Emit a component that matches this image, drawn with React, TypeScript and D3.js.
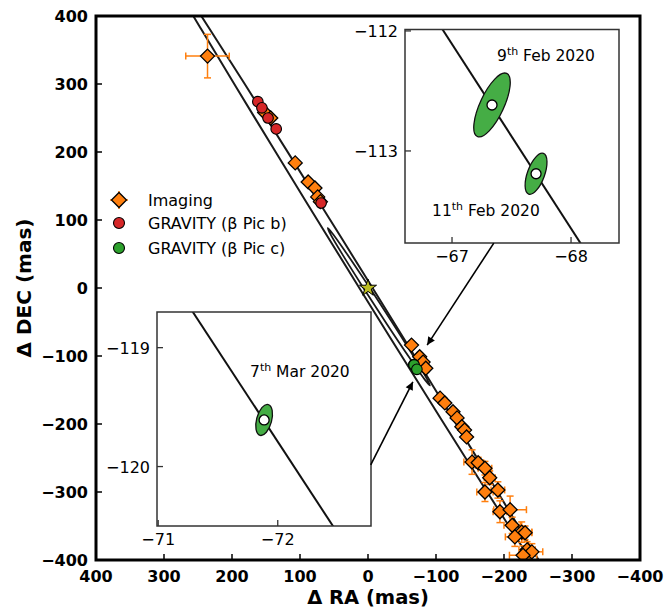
import * as d3 from "d3";

// ---------- data (mas) ----------
const imagingRA = [236, 152, 143, 107, 88, 78, 74, 70, -64, -76, -81, -85, -106, -113, -125, -131, -138, -142, -145, -153, -162, -172, -179, -172, -191, -194, -209, -212, -226, -231, -216, -234, -241, -228];
const imagingDEC = [341, 258, 250, 184, 156, 147, 134, 127, -84, -101, -109, -118, -162, -169, -182, -191, -204, -209, -219, -256, -257, -265, -279, -300, -297, -329, -326, -349, -359, -360, -366, -385, -388, -393];
const imagingErrRA = [32, 3, 3, 3, 3, 3, 3, 3, 3, 5, 5, 5, 4, 4, 4, 4, 4, 4, 4, 12, 8, 10, 8, 12, 10, 10, 24, 12, 15, 10, 14, 12, 16, 20];
const imagingErrDEC = [32, 3, 3, 3, 3, 3, 3, 3, 3, 6, 6, 6, 4, 4, 4, 4, 4, 4, 4, 18, 8, 10, 10, 14, 12, 16, 20, 12, 15, 10, 14, 12, 12, 14];

const gravityBRA = [162, 156, 147, 135, 69];
const gravityBDEC = [274, 265, 250, 234, 125];

const gravityCRA = [-67.336, -67.706, -71.886];
const gravityCDEC = [-112.617, -113.19, -119.608];
const gravityCMajor = [0.29, 0.18, 0.134]; // error ellipse semi-axes (mas)
const gravityCMinor = [0.1, 0.072, 0.063];
const gravityCPA = [-25, -20, -15]; // deg, east of north
const gravityCInset = [0, 0, 1];

// projected orbits (vertices)
const orbitB: [number, number][] = [
  [313.9, 501.5], [290.4, 457.3], [244.7, 379.7], [167.1, 251.3], [88.8, 123.3], [10.0, -4.3],
  [-69.3, -131.7], [-149.1, -258.7], [-229.7, -385.3], [-278.8, -460.7], [-307.9, -501.5],
  [-284.4, -457.3], [-238.7, -379.7], [-161.1, -251.3], [-82.8, -123.3], [-4.0, 4.3],
  [75.3, 131.7], [155.1, 258.7], [235.7, 385.3], [284.8, 460.7],
];
const orbitC: [number, number][] = [
  [59.2, 88.1], [55.0, 78.9], [37.2, 48.7], [5.3, -2.1], [-27.4, -52.5], [-60.8, -102.3],
  [-83.8, -135.1], [-91.1, -143.4], [-86.5, -133.3], [-66.0, -99.0], [-34.0, -48.2],
  [-1.3, 2.1], [32.2, 51.9], [52.5, 80.5],
];
// local track of c through the GRAVITY epochs
const cTrack: [number, number][] = [[-66.603, -111.5], [-72.787, -121.0]];

const mainTicks = [400, 300, 200, 100, 0, -100, -200, -300, -400];

const insets = [
  { ra: [-66.605, -68.403], dec: [-113.767, -111.988], raTicks: [-67, -68], decTicks: [-112, -113], box: [405, 29.5, 619, 243] },
  { ra: [-70.99, -72.78], dec: [-120.5, -118.7], raTicks: [-71, -72], decTicks: [-119, -120], box: [157, 312, 371, 526] },
];
const insetNotes = [
  { inset: 0, ra: -67.378, dec: -112.25, day: "9", rest: " Feb 2020" },
  { inset: 0, ra: -66.832, dec: -113.542, day: "11", rest: " Feb 2020" },
  { inset: 1, ra: -71.768, dec: -119.247, day: "7", rest: " Mar 2020" },
];
const arrows: [number, number, number, number][] = [
  [-185, 66, -87, -84],
  [-4, -260, -66, -138],
];

const legendItems = ["Imaging", "GRAVITY (\u03b2 Pic b)", "GRAVITY (\u03b2 Pic c)"];

const ORANGE = "#ff7f0e";
const RED = "#d62728";
const GREEN = "#2ca02c";
const FONT = "DejaVu Sans";
const minus = (v: number) => (v < 0 ? "\u2212" + Math.abs(v) : String(v));

export default function App() {
  const x = d3.scaleLinear().domain([400, -400]).range([96, 640]);
  const y = d3.scaleLinear().domain([-400, 400]).range([560, 16]);

  const orbitLine = d3
    .line<[number, number]>()
    .x((d) => x(d[0]))
    .y((d) => y(d[1]))
    .curve(d3.curveCatmullRomClosed);

  const diamond = (cx: number, cy: number, r: number) =>
    `M${cx},${cy - r}L${cx + r},${cy}L${cx},${cy + r}L${cx - r},${cy}Z`;
  const star = d3.symbol(d3.symbolStar, 90)();

  const insetScales = insets.map((ins) => ({
    ix: d3.scaleLinear().domain(ins.ra).range([ins.box[0], ins.box[2]]),
    iy: d3.scaleLinear().domain(ins.dec).range([ins.box[3], ins.box[1]]),
  }));

  return (
    <div style={{ position: "absolute", left: 0, top: 0 }}>
      <svg width={669} height={608} style={{ display: "block", fontFamily: FONT }}>
        <defs>
          <clipPath id="mainClip">
            <rect x={96} y={16} width={544} height={544} />
          </clipPath>
          {insets.map((ins, i) => (
            <clipPath id={`insetClip${i}`} key={i}>
              <rect x={ins.box[0]} y={ins.box[1]} width={ins.box[2] - ins.box[0]} height={ins.box[3] - ins.box[1]} />
            </clipPath>
          ))}
          <marker id="head" viewBox="0 0 10 10" refX={10} refY={5} markerWidth={11} markerHeight={8}
            markerUnits="userSpaceOnUse" orient="auto">
            <path d="M0,0L10,5L0,10Z" fill="#000" />
          </marker>
        </defs>
        <rect width={669} height={608} fill="#fff" />

        <g clipPath="url(#mainClip)">
          <path d={orbitLine(orbitB) ?? ""} fill="none" stroke="#1a1a1a" strokeWidth={2} />
          <path d={orbitLine(orbitC) ?? ""} fill="none" stroke="#1a1a1a" strokeWidth={1.8} />

          {imagingRA.map((ra, i) => {
            const cx = x(ra), cy = y(imagingDEC[i]);
            const ex0 = x(ra + imagingErrRA[i]), ex1 = x(ra - imagingErrRA[i]);
            const ey0 = y(imagingDEC[i] + imagingErrDEC[i]), ey1 = y(imagingDEC[i] - imagingErrDEC[i]);
            return (
              <g key={"e" + i} stroke={ORANGE} strokeWidth={1.5}>
                <line x1={ex0} x2={ex1} y1={cy} y2={cy} />
                <line x1={cx} x2={cx} y1={ey0} y2={ey1} />
                <line x1={ex0} x2={ex0} y1={cy - 3.5} y2={cy + 3.5} />
                <line x1={ex1} x2={ex1} y1={cy - 3.5} y2={cy + 3.5} />
                <line x1={cx - 3.5} x2={cx + 3.5} y1={ey0} y2={ey0} />
                <line x1={cx - 3.5} x2={cx + 3.5} y1={ey1} y2={ey1} />
              </g>
            );
          })}
          {imagingRA.map((ra, i) => (
            <path key={"d" + i} d={diamond(x(ra), y(imagingDEC[i]), 7)} fill={ORANGE} stroke="#000" strokeWidth={1.3} />
          ))}
          {gravityBRA.map((ra, i) => (
            <circle key={"b" + i} cx={x(ra)} cy={y(gravityBDEC[i])} r={5.3} fill={RED} stroke="#000" strokeWidth={1.1} />
          ))}
          {gravityCRA.map((ra, i) => (
            <circle key={"c" + i} cx={x(ra)} cy={y(gravityCDEC[i])} r={5.3} fill={GREEN} stroke="#000" strokeWidth={1.1} />
          ))}
          <path d={star ?? ""} transform={`translate(${x(0)},${y(0)})`} fill="#bcbd22" stroke="#000" strokeWidth={1} />
        </g>

        {/* main ticks */}
        {mainTicks.map((t) => (
          <g key={"t" + t}>
            <line x1={x(t)} x2={x(t)} y1={560} y2={554} stroke="#000" strokeWidth={1.5} />
            <line x1={96} x2={102} y1={y(t)} y2={y(t)} stroke="#000" strokeWidth={1.5} />
            <text x={x(t)} y={582} textAnchor="middle" fontSize={16} fontWeight="bold">{minus(t)}</text>
            <text x={88} y={y(t) + 6} textAnchor="end" fontSize={16} fontWeight="bold">{minus(t)}</text>
          </g>
        ))}
        <rect x={96} y={16} width={544} height={544} fill="none" stroke="#000" strokeWidth={3} />
        <text x={368} y={604} textAnchor="middle" fontSize={19.5} fontWeight="bold">{"\u0394 RA (mas)"}</text>
        <text transform="translate(31,288) rotate(-90)" textAnchor="middle" fontSize={20} fontWeight="bold">{"\u0394 DEC (mas)"}</text>

        {/* legend */}
        <g>
          <g stroke={ORANGE} strokeWidth={1.5}>
            <line x1={110} x2={128} y1={200} y2={200} />
            <line x1={119} x2={119} y1={191} y2={209} />
          </g>
          <path d={diamond(119, 200, 7.5)} fill={ORANGE} stroke="#000" strokeWidth={1.3} />
          <circle cx={119} cy={223} r={5.5} fill={RED} stroke="#000" strokeWidth={1.1} />
          <circle cx={119} cy={248} r={5.5} fill={GREEN} stroke="#000" strokeWidth={1.1} />
          {legendItems.map((t, i) => (
            <text key={t} x={148} y={[200, 223, 248][i] + 6} fontSize={16}>{t}</text>
          ))}
        </g>

        {/* insets */}
        {insets.map((ins, k) => {
          const { ix, iy } = insetScales[k];
          const [bx0, by0, bx1, by1] = ins.box;
          return (
            <g key={"in" + k}>
              <rect x={bx0} y={by0} width={bx1 - bx0} height={by1 - by0} fill="#fff" />
              <g clipPath={`url(#insetClip${k})`}>
                <line x1={ix(cTrack[0][0])} y1={iy(cTrack[0][1])} x2={ix(cTrack[1][0])} y2={iy(cTrack[1][1])}
                  stroke="#111" strokeWidth={2} />
                {gravityCRA.map((ra, i) => {
                  if (gravityCInset[i] !== k) return null;
                  const cx = ix(ra), cy = iy(gravityCDEC[i]);
                  const rx = Math.abs(ix(ra + gravityCMinor[i]) - cx);
                  const ry = Math.abs(iy(gravityCDEC[i] + gravityCMajor[i]) - cy);
                  return (
                    <g key={"ce" + i}>
                      <ellipse cx={cx} cy={cy} rx={rx} ry={ry} transform={`rotate(${-gravityCPA[i]},${cx},${cy})`}
                        fill="#45ad45" stroke="#111" strokeWidth={1.3} />
                      <circle cx={cx} cy={cy} r={5} fill="#fff" stroke="#000" strokeWidth={1.3} />
                    </g>
                  );
                })}
              </g>
              <rect x={bx0} y={by0} width={bx1 - bx0} height={by1 - by0} fill="none" stroke="#333" strokeWidth={1.5} />
              {ins.raTicks.map((t) => (
                <g key={"rt" + t}>
                  <line x1={ix(t)} x2={ix(t)} y1={by1} y2={by1 - 6} stroke="#333" strokeWidth={1.3} />
                  <text x={ix(t)} y={by1 + 19} textAnchor="middle" fontSize={16}>{minus(t)}</text>
                </g>
              ))}
              {ins.decTicks.map((t) => (
                <g key={"dt" + t}>
                  <line x1={bx0} x2={bx0 + 6} y1={iy(t)} y2={iy(t)} stroke="#333" strokeWidth={1.3} />
                  <text x={bx0 - 7} y={iy(t) + 6} textAnchor="end" fontSize={16}>{minus(t)}</text>
                </g>
              ))}
            </g>
          );
        })}
        {insetNotes.map((n, i) => {
          const { ix, iy } = insetScales[n.inset];
          return (
            <text key={"n" + i} x={ix(n.ra)} y={iy(n.dec)} fontSize={15.5}>
              {n.day}
              <tspan dy={-6} fontSize={11}>th</tspan>
              <tspan dy={6}>{n.rest}</tspan>
            </text>
          );
        })}

        {/* arrows */}
        {arrows.map((a, i) => (
          <line key={"a" + i} x1={x(a[0])} y1={y(a[1])} x2={x(a[2])} y2={y(a[3])} stroke="#000" strokeWidth={1.6}
            markerEnd="url(#head)" />
        ))}
      </svg>
    </div>
  );
}
